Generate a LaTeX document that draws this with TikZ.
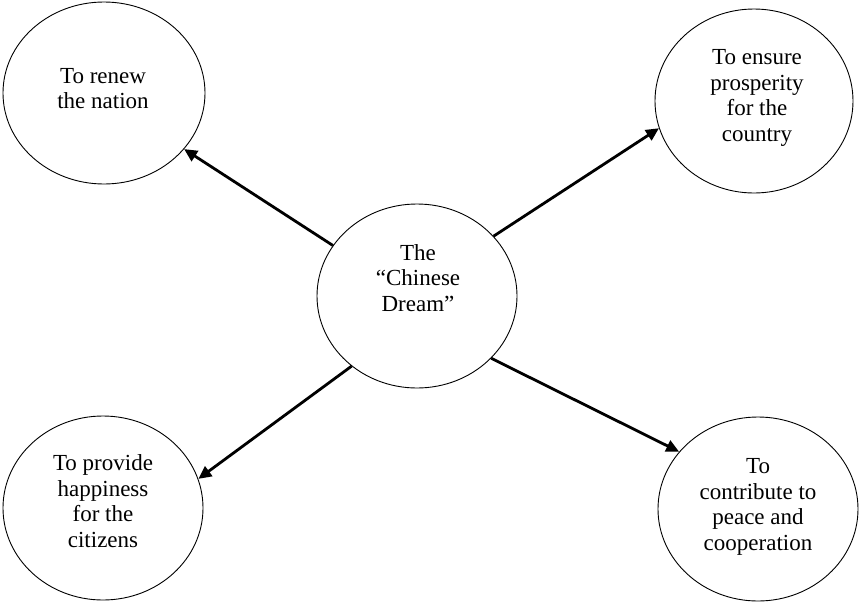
\documentclass[tikz,border=0pt]{standalone}
\usepackage{fontspec}
\setmainfont{Liberation Serif}
\usetikzlibrary{shapes.geometric,arrows.meta}
\begin{document}
\begin{tikzpicture}[x=1pt,y=-1pt,
  bubble/.style={draw, ellipse, line width=0.9pt, inner sep=0pt,
    minimum width=200pt, minimum height=184pt},
  words/.style={align=center, font=\fontsize{23}{25.7}\selectfont, inner sep=0pt},
  link/.style={line width=2.8pt, -{Triangle[length=13pt,width=12pt]}}]
\useasboundingbox (0,0) rectangle (862,603);

% the five ellipses
\node[bubble, minimum width=202pt, minimum height=182pt] (renew) at (104,93) {};
\node[bubble, minimum width=198pt] (prosper) at (754,101) {};
\node[bubble] (dream) at (417,296) {};
\node[bubble] (happy) at (103,508) {};
\node[bubble] (peace) at (758,509) {};

% their texts
\node[words] (renewtxt) at (103,88.5) {To renew\\the nation};
\node[words] (prospertxt) at (757,98) {To ensure\\prosperity\\for the\\country};
\node[words] (dreamtxt) at (418,278) {The\\``Chinese\\Dream''};
\node[words] (happytxt) at (103,501) {To provide\\happiness\\for the\\citizens};
\node[words] (peacetxt) at (758,507) {To\\contribute to\\peace and\\cooperation};

% arrows from the centre to the four aims
\draw[link] (dream.149) -- (renew.-35);
\draw[link] (dream.38) -- (prosper.196);
\draw[link] (dream.227) -- (happy.17);
\draw[link] (dream.-40) -- (peace.144);
\end{tikzpicture}
\end{document}
